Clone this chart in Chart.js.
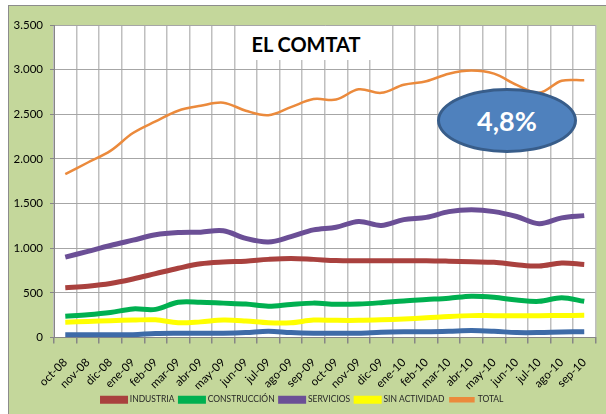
<!DOCTYPE html>
<html>
<head>
<meta charset="utf-8">
<script src="https://cdn.jsdelivr.net/npm/chart.js@4.4.0/dist/chart.umd.min.js"></script>
<style>
  html, body { margin: 0; padding: 0; background: #fff; }
  #frame { position: absolute; left: 8px; top: 5px; width: 620px; height: 420px; background: #C4D79B; border: 1px solid #8C8C8C; }
  #wrap { position: absolute; left: 0; top: 0; width: 606px; height: 414px; }
  #title {
    position: absolute; left: 241px; top: 26px; width: 130px; height: 34px; background: #fff;
    font: bold 20px Lato, sans-serif; color: #000; text-align: center; line-height: 36px;
  }
  #badge {
    position: absolute; left: 437px; top: 88px; width: 134px; height: 59px; border-radius: 50%;
    background: #4F81BD; border: 3px solid #385D8A; box-sizing: content-box;
    font: bold 27px Lato, sans-serif; color: #fff; text-align: center; line-height: 59px;
  }
</style>
</head>
<body>
<div id="frame"></div>
<div id="wrap"><canvas id="chart"></canvas></div>
<div id="title">EL COMTAT</div>
<div id="badge">4,8%</div>
<script>
// months oct-08 .. sep-10
const months = ['oct-08','nov-08','dic-08','ene-09','feb-09','mar-09','abr-09','may-09','jun-09','jul-09','ago-09','sep-09',
                'oct-09','nov-09','dic-09','ene-10','feb-10','mar-10','abr-10','may-10','jun-10','jul-10','ago-10','sep-10'];

const industria    = [557, 575, 605, 655, 715, 775, 825, 845, 855, 875, 885, 875, 862, 860, 860, 860, 860, 855, 848, 842, 815, 800, 835, 818];
const construccion = [239, 255, 280, 320, 315, 395, 395, 385, 375, 350, 370, 385, 372, 375, 390, 410, 425, 440, 462, 450, 420, 405, 445, 405];
const servicios    = [900, 965, 1030, 1090, 1150, 1175, 1180, 1195, 1110, 1070, 1130, 1205, 1235, 1300, 1255, 1320, 1345, 1410, 1430, 1410, 1355, 1275, 1340, 1365];
const sinActividad = [172, 180, 188, 195, 198, 165, 175, 195, 185, 165, 165, 195, 192, 192, 198, 208, 220, 235, 245, 245, 245, 245, 247, 248];
const total        = [1830, 1960, 2090, 2290, 2420, 2540, 2595, 2630, 2540, 2490, 2580, 2670, 2665, 2780, 2740, 2830, 2870, 2955, 2990, 2955, 2830, 2740, 2875, 2880];
const agricultura  = [30, 30, 30, 32, 45, 48, 48, 48, 55, 70, 55, 48, 48, 48, 60, 65, 65, 70, 78, 70, 55, 55, 62, 65];

const yMax = 3500;
const yStep = 500;

const fmt = v => String(v).replace(/\B(?=(\d{3})+(?!\d))/g, '.');

const line = (label, data, color, width) => ({
  label, data,
  borderColor: color, backgroundColor: color,
  borderWidth: width, pointRadius: 0, tension: 0.35, fill: false
});

// white plot area
const plotBg = {
  id: 'plotBg',
  beforeDraw(chart) {
    const { ctx, chartArea: a } = chart;
    ctx.save();
    ctx.fillStyle = '#fff';
    ctx.fillRect(a.left, a.top, a.right - a.left, a.bottom - a.top);
    ctx.restore();
  }
};

new Chart(document.getElementById('chart'), {
  type: 'line',
  data: {
    labels: months,
    datasets: [
      line('INDUSTRIA', industria, '#A9413E', 5),
      line('CONSTRUCCIÓN', construccion, '#00B050', 5),
      line('SERVICIOS', servicios, '#6B4F96', 5),
      line('SIN ACTIVIDAD', sinActividad, '#FFFF00', 5),
      line('TOTAL', total, '#EB8A3C', 2.5),
      line('AGRICULTURA', agricultura, '#3E6BA8', 5),
    ]
  },
  plugins: [plotBg],
  options: {
    responsive: true, maintainAspectRatio: false, animation: false,
    layout: { padding: { top: 25, left: 0, right: 0, bottom: 0 } },
    plugins: {
      tooltip: { enabled: false },
      legend: {
        position: 'bottom',
        labels: {
          boxWidth: 23, boxHeight: 3, padding: 6,
          color: '#262626', font: { family: 'Lato', size: 8.5 },
          filter: item => item.text !== 'AGRICULTURA'
        }
      }
    },
    scales: {
      x: {
        offset: true,
        grid: { offset: true, color: '#BFBFBF', lineWidth: 1.5, tickLength: 6, tickColor: '#868686' },
        border: { color: '#868686' },
        ticks: { autoSkip: false, minRotation: 45, maxRotation: 45, color: '#000', font: { family: 'Lato', size: 11.5 }, padding: 12 },
        afterFit: s => { s.height = 52; }
      },
      y: {
        min: 0, max: yMax,
        grid: { color: '#A6A6A6', lineWidth: 1, tickLength: 4, tickColor: '#868686' },
        border: { color: '#868686' },
        ticks: { stepSize: yStep, callback: v => fmt(v), color: '#000', font: { family: 'Lato', size: 11.5 }, padding: 7 },
        afterFit: s => { s.width = 54; }
      }
    }
  }
});
</script>
</body>
</html>
